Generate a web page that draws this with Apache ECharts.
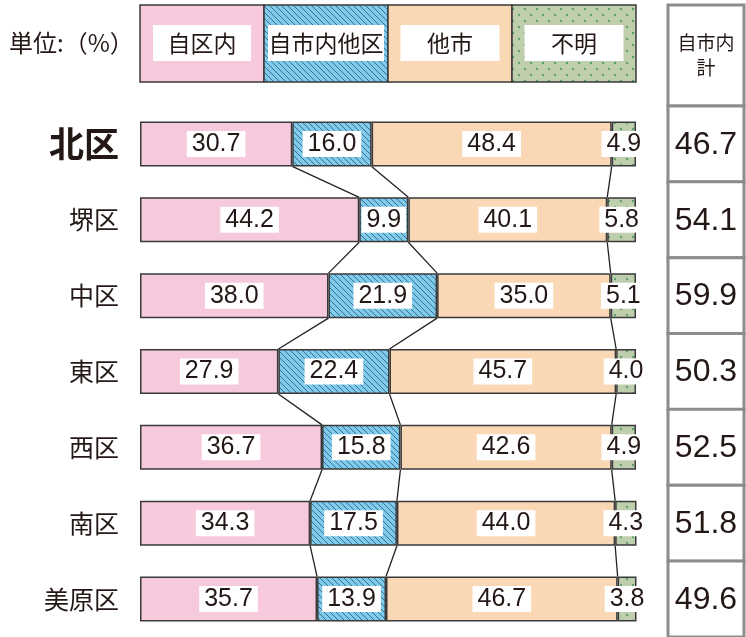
<!DOCTYPE html>
<html>
<head>
<meta charset="utf-8">
<script src="https://cdn.jsdelivr.net/npm/echarts@6/dist/echarts.min.js"></script>
<style>
  html, body { margin: 0; padding: 0; background: #fff; }
  #chart { width: 746px; height: 637px; }
</style>
</head>
<body>
<div id="chart"></div>
<script>
// 区ごとの通勤・通学先の割合（%）
const categories = ['北区', '堺区', '中区', '東区', '西区', '南区', '美原区'];
const seriesNames = ['自区内', '自市内他区', '他市', '不明'];
const jikuNai = [30.7, 44.2, 38.0, 27.9, 36.7, 34.3, 35.7];
const shinaiTaku = [16.0, 9.9, 21.9, 22.4, 15.8, 17.5, 13.9];
const tashi = [48.4, 40.1, 35.0, 45.7, 42.6, 44.0, 46.7];
const fumei = [4.9, 5.8, 5.1, 4.0, 4.9, 4.3, 3.8];
const shinaiKei = [46.7, 54.1, 59.9, 50.3, 52.5, 51.8, 49.6];

const NUM_FONT = '"Liberation Sans Narrow", "Liberation Sans", Arial, sans-serif';
const JP_FONT = '"Noto Sans CJK JP", sans-serif';
const TEXT = '#231815';
const EDGE = '#3a3a3a';
const BAR_W = 45;

// 斜線パターン
function hatchCanvas() {
  const c = document.createElement('canvas');
  c.width = 6; c.height = 6;
  const g = c.getContext('2d');
  g.fillStyle = '#7ecbee';
  g.fillRect(0, 0, 6, 6);
  g.strokeStyle = '#3f6f88';
  g.lineWidth = 1;
  g.beginPath();
  g.moveTo(-1, -1); g.lineTo(7, 7);
  g.moveTo(-1, 5); g.lineTo(1, 7);
  g.moveTo(5, -1); g.lineTo(7, 1);
  g.stroke();
  return c;
}
// ドットパターン
function dotCanvas() {
  const c = document.createElement('canvas');
  c.width = 12; c.height = 12;
  const g = c.getContext('2d');
  g.fillStyle = '#bfcfad';
  g.fillRect(0, 0, 12, 12);
  g.fillStyle = '#5e9f6f';
  [[3, 3], [9, 9]].forEach(function (p) {
    g.beginPath(); g.arc(p[0], p[1], 1.2, 0, Math.PI * 2); g.fill();
  });
  return c;
}

const fills = [
  '#f6c9dd',
  { image: hatchCanvas(), repeat: 'repeat' },
  '#fad8b6',
  { image: dotCanvas(), repeat: 'repeat' }
];
const values = [jikuNai, shinaiTaku, tashi, fumei];

// 区切り位置（累積）
const links = [];
for (let i = 0; i < categories.length - 1; i++) {
  const a = [], b = [];
  let sa = 0, sb = 0;
  for (let k = 0; k < 3; k++) {
    sa += values[k][i]; sb += values[k][i + 1];
    a.push(sa); b.push(sb);
  }
  links.push([i].concat(a, b));
}

const chart = echarts.init(document.getElementById('chart'));

const barSeries = seriesNames.map(function (name, k) {
  return {
    name: name,
    type: 'bar',
    stack: 'total',
    barWidth: BAR_W,
    data: values[k],
    itemStyle: { color: fills[k], borderColor: EDGE, borderWidth: 1.5 },
    label: {
      show: true,
      position: 'inside',
      formatter: function (p) { return p.value.toFixed(1); },
      fontFamily: NUM_FONT,
      fontSize: 25,
      color: TEXT,
      backgroundColor: '#fff',
      padding: [1, 5, 0, 5]
    }
  };
});

const linkSeries = {
  type: 'custom',
  data: links,
  encode: { x: [1, 2, 3, 4, 5, 6], y: 0 },
  silent: true,
  renderItem: function (params, api) {
    const i = api.value(0);
    const kids = [];
    for (let k = 0; k < 3; k++) {
      const p1 = api.coord([api.value(1 + k), i]);
      const p2 = api.coord([api.value(4 + k), i + 1]);
      kids.push({
        type: 'line',
        shape: { x1: p1[0], y1: p1[1] + BAR_W / 2, x2: p2[0], y2: p2[1] - BAR_W / 2 },
        style: { stroke: '#222', lineWidth: 1.3 }
      });
    }
    return { type: 'group', children: kids };
  }
};

// 凡例
const legendGraphics = [];
const legendBoxW = [98, 116, 99, 99];
seriesNames.forEach(function (name, k) {
  const x0 = 140 + 124 * k;
  legendGraphics.push({
    type: 'rect', shape: { x: x0, y: 5, width: 124, height: 77 },
    style: { fill: fills[k], stroke: EDGE, lineWidth: 1.5 }, z: 10
  });
  legendGraphics.push({
    type: 'rect', shape: { x: x0 + (124 - legendBoxW[k]) / 2, y: 25, width: legendBoxW[k], height: 36 },
    style: { fill: '#fff' }, z: 11
  });
  legendGraphics.push({
    type: 'text', x: x0 + 62, y: 43, z: 12,
    style: { text: name, fill: TEXT, font: '23px ' + JP_FONT, align: 'center', verticalAlign: 'middle' }
  });
});
legendGraphics.push({
  type: 'text', x: 9, y: 43, z: 12,
  style: { text: '単位:（%）', fill: TEXT, font: '24px ' + JP_FONT, align: 'left', verticalAlign: 'middle' }
});

chart.setOption({
  animation: false,
  grid: { left: 140, width: 496, top: 106, height: 532 },
  xAxis: {
    type: 'value', min: 0, max: 100,
    show: false
  },
  yAxis: {
    type: 'category',
    inverse: true,
    data: categories,
    axisLine: { show: false },
    axisTick: { show: false },
    axisLabel: {
      margin: 21,
      formatter: function (v, i) { return i === 0 ? '{b|' + v + '}' : '{n|' + v + '}'; },
      rich: {
        b: { fontFamily: JP_FONT, fontSize: 35, fontWeight: 'bold', color: TEXT },
        n: { fontFamily: JP_FONT, fontSize: 25, color: TEXT }
      }
    }
  },
  series: barSeries.concat([linkSeries]),
  graphic: legendGraphics
});

// 右側の「自市内計」表
const tableGraphics = [];
const TX = 668, TW = 76;
const firstTop = chart.convertToPixel({ yAxisIndex: 0 }, categories[0]) - 38;
tableGraphics.push({
  type: 'rect', shape: { x: TX, y: 5, width: TW, height: firstTop - 5 },
  style: { fill: '#fff', stroke: '#8c8c8c', lineWidth: 3 }, z: 10
});
tableGraphics.push({
  type: 'text', x: TX + TW / 2, y: (5 + firstTop) / 2, z: 12,
  style: { text: '自市内\n計', fill: TEXT, font: '19px ' + JP_FONT, lineHeight: 25, align: 'center', verticalAlign: 'middle' }
});
categories.forEach(function (c, i) {
  const cy = chart.convertToPixel({ yAxisIndex: 0 }, c);
  tableGraphics.push({
    type: 'rect', shape: { x: TX, y: cy - 38, width: TW, height: 76 },
    style: { fill: '#fff', stroke: '#8c8c8c', lineWidth: 3 }, z: 10
  });
  tableGraphics.push({
    type: 'text', x: TX + TW / 2, y: cy + 1, z: 12,
    style: { text: shinaiKei[i].toFixed(1), fill: TEXT, font: '32px ' + NUM_FONT, align: 'center', verticalAlign: 'middle' }
  });
});
chart.setOption({ graphic: legendGraphics.concat(tableGraphics) });
</script>
</body>
</html>
